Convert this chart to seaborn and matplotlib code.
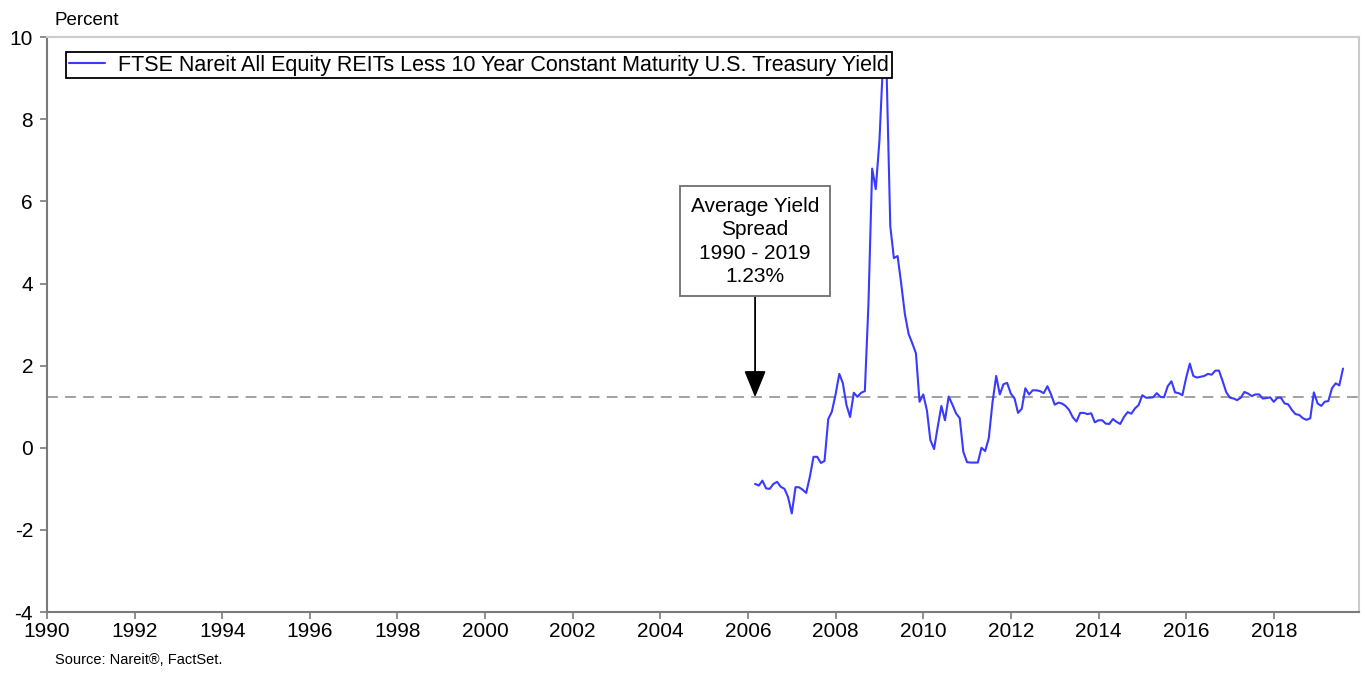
import pandas as pd
import matplotlib.pyplot as plt
import matplotlib.dates as mdates
import seaborn as sns

# --- DATA (monthly, Mar 2006 - Aug 2019, percent) ---
START_MONTH = "2006-03-01"
SPREAD = [
    -0.88, -0.92, -0.80, -0.99, -1.00, -0.88, -0.83, -0.95, -1.00, -1.20,
    -1.60, -0.96, -0.96, -1.02, -1.10, -0.70, -0.22, -0.22, -0.37, -0.32,
    0.70, 0.88, 1.30, 1.80, 1.58, 1.04, 0.75, 1.34, 1.24, 1.34,
    1.38, 3.50, 6.80, 6.30, 7.50, 9.50, 9.20, 5.40, 4.62, 4.67,
    4.00, 3.25, 2.77, 2.55, 2.30, 1.12, 1.30, 0.90, 0.19, -0.03,
    0.50, 1.02, 0.67, 1.25, 1.05, 0.84, 0.72, -0.10, -0.35, -0.36,
    -0.36, -0.36, 0.00, -0.08, 0.23, 1.10, 1.75, 1.30, 1.55, 1.58,
    1.32, 1.20, 0.85, 0.95, 1.45, 1.30, 1.40, 1.40, 1.38, 1.33,
    1.50, 1.30, 1.05, 1.10, 1.08, 1.02, 0.92, 0.74, 0.64, 0.85,
    0.85, 0.82, 0.84, 0.62, 0.67, 0.67, 0.59, 0.58, 0.70, 0.63,
    0.58, 0.75, 0.87, 0.83, 0.96, 1.04, 1.28, 1.22, 1.22, 1.23,
    1.33, 1.24, 1.23, 1.50, 1.62, 1.35, 1.33, 1.28, 1.70, 2.05,
    1.75, 1.71, 1.73, 1.75, 1.80, 1.78, 1.88, 1.88, 1.62, 1.35,
    1.22, 1.20, 1.16, 1.22, 1.36, 1.32, 1.26, 1.30, 1.30, 1.20,
    1.21, 1.23, 1.12, 1.22, 1.22, 1.08, 1.06, 0.92, 0.82, 0.80,
    0.72, 0.68, 0.72, 1.35, 1.08, 1.02, 1.12, 1.14, 1.45, 1.57,
    1.52, 1.93,
]
AVERAGE_SPREAD = 1.23
AVERAGE_DATE = "2006-03-01"
SERIES_LABEL = "FTSE Nareit All Equity REITs Less 10 Year Constant Maturity U.S. Treasury Yield"
BOX_TEXT = "Average Yield\nSpread\n1990 - 2019\n1.23%"
Y_TICKS = [-4, -2, 0, 2, 4, 6, 8, 10]

LINE_COLOR = "#3a3aff"
AXIS_GRAY = "#7a7a7a"

sns.set_theme(style="white")
plt.rcParams["font.family"] = ["Liberation Sans", "DejaVu Sans"]
plt.rcParams["axes.unicode_minus"] = False
plt.rcParams["text.color"] = "black"

df = pd.DataFrame({
    "date": pd.date_range(START_MONTH, periods=len(SPREAD), freq="MS"),
    "spread": SPREAD,
})

fig = plt.figure(figsize=(13.65, 6.77), dpi=100)
ax = fig.add_axes([0.0344, 0.096, 0.961, 0.849])

sns.lineplot(data=df, x="date", y="spread", color=LINE_COLOR, linewidth=1.5,
             label=SERIES_LABEL, ax=ax, zorder=2.5)
ax.axhline(AVERAGE_SPREAD, color="#9a9a9a", linestyle=(0, (6, 4)), linewidth=1.3, zorder=2)

ax.set_xlim(pd.Timestamp("1990-01-01"), pd.Timestamp("2019-12-10"))
ax.set_ylim(-4, 10)
ax.set_yticks(Y_TICKS)
ax.xaxis.set_major_locator(mdates.YearLocator(2))
ax.xaxis.set_major_formatter(mdates.DateFormatter("%Y"))
ax.set_xlabel("")
ax.set_ylabel("")

for side in ["left", "bottom"]:
    ax.spines[side].set_color(AXIS_GRAY)
    ax.spines[side].set_linewidth(1.5)
for side in ["top", "right"]:
    ax.spines[side].set_color("#cccccc")
    ax.spines[side].set_linewidth(1.5)
ax.tick_params(axis="both", direction="out", length=5, width=1.2, color=AXIS_GRAY,
               labelsize=15, labelcolor="black", bottom=True, left=True)
ax.tick_params(axis="y", pad=5)
ax.tick_params(axis="x", pad=2)

leg = ax.legend(loc="upper left", bbox_to_anchor=(0.0145, 0.974), fontsize=15.5,
                frameon=True, fancybox=False, edgecolor="black", framealpha=1,
                handlelength=1.7, borderpad=0.12, handletextpad=0.6,
                borderaxespad=0)
leg.get_frame().set_linewidth(1.3)
leg.set_zorder(10)
for txt in leg.get_texts():
    txt.set_color("black")

ax.annotate(BOX_TEXT, xy=(pd.Timestamp(AVERAGE_DATE), AVERAGE_SPREAD),
            xytext=(pd.Timestamp(AVERAGE_DATE), 5.03), fontsize=15,
            ha="center", va="center", linespacing=1.3, color="black",
            bbox=dict(boxstyle="square,pad=0.5", facecolor="white",
                      edgecolor="#6e6e6e", linewidth=1.3),
            arrowprops=dict(arrowstyle="-|>,head_width=0.45,head_length=1.1",
                            color="black", linewidth=1.3, shrinkA=0, shrinkB=0),
            zorder=4)

fig.text(0.040, 0.970, "Percent", fontsize=13.5, ha="left", va="center")
fig.text(0.040, 0.025, "Source: Nareit\u00ae, FactSet.", fontsize=10.5, ha="left", va="center")

fig.savefig("out.png", dpi=100)
